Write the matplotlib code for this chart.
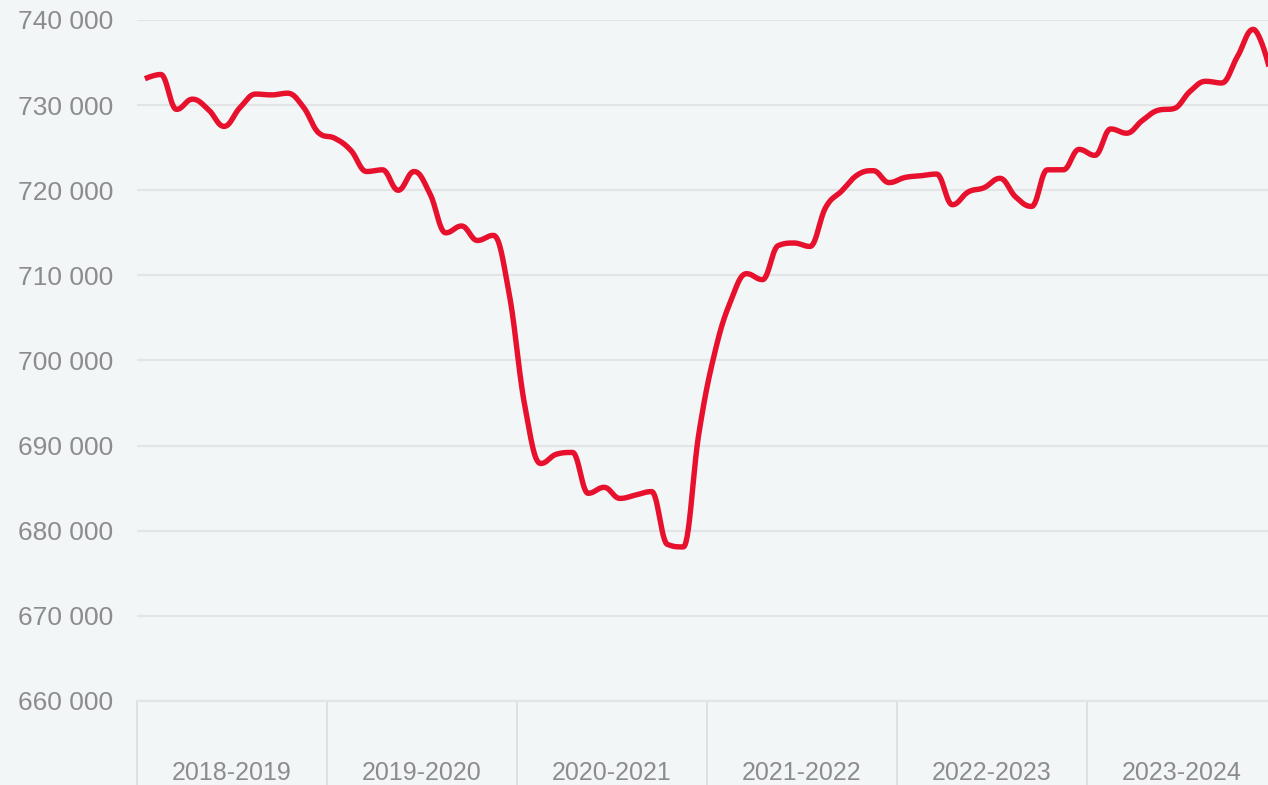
import matplotlib
matplotlib.use("Agg")
import matplotlib.pyplot as plt
import numpy as np
from matplotlib.ticker import FuncFormatter, FixedLocator

plt.rcParams["font.family"] = ["Liberation Sans", "DejaVu Sans"]

# %% data: monthly values (thousands), one list per season
seasons = ["2018-2019", "2019-2020", "2020-2021", "2021-2022", "2022-2023", "2023-2024"]
s2018 = [733.1, 733.6, 729.5, 730.7, 729.5, 727.5, 729.7, 731.3, 731.2, 731.4, 729.8, 726.7]
s2019 = [726.1, 724.7, 722.2, 722.4, 720.0, 722.2, 719.6, 715.0, 715.8, 714.1, 714.7, 707.9]
s2020 = [694.6, 687.9, 689.0, 689.2, 684.4, 685.1, 683.8, 684.2, 684.6, 678.4, 678.1, 691.6]
s2021 = [701.0, 707.0, 710.2, 709.5, 713.5, 713.8, 713.4, 718.0, 719.9, 721.8, 722.3, 720.9]
s2022 = [721.5, 721.7, 721.9, 718.3, 719.8, 720.3, 721.4, 719.2, 718.1, 722.4, 722.4, 724.8]
s2023 = [724.1, 727.2, 726.7, 728.2, 729.4, 729.6, 731.6, 732.8, 732.6, 735.7, 738.9, 734.5]

values = np.array(s2018 + s2019 + s2020 + s2021 + s2022 + s2023) * 1000
months = np.arange(len(values)) + 0.5
y_ticks = list(range(660000, 740001, 10000))


def spline_path(x, y, n=30, smoothing=1.5):
    # bezier spline with control points clamped so no false extremes appear
    k = len(x)
    denom = smoothing + 1
    lcx, lcy = x.astype(float).copy(), y.astype(float).copy()
    rcx, rcy = x.astype(float).copy(), y.astype(float).copy()
    for i in range(1, k - 1):
        lx = (smoothing * x[i] + x[i - 1]) / denom
        ly = (smoothing * y[i] + y[i - 1]) / denom
        rx = (smoothing * x[i] + x[i + 1]) / denom
        ry = (smoothing * y[i] + y[i + 1]) / denom
        corr = (ry - ly) * (rx - x[i]) / (rx - lx) + y[i] - ry
        ly += corr
        ry += corr
        if ly > y[i - 1] and ly > y[i]:
            ly = max(y[i - 1], y[i])
            ry = 2 * y[i] - ly
        elif ly < y[i - 1] and ly < y[i]:
            ly = min(y[i - 1], y[i])
            ry = 2 * y[i] - ly
        if ry > y[i + 1] and ry > y[i]:
            ry = max(y[i + 1], y[i])
            ly = 2 * y[i] - ry
        elif ry < y[i + 1] and ry < y[i]:
            ry = min(y[i + 1], y[i])
            ly = 2 * y[i] - ry
        lcx[i], lcy[i], rcx[i], rcy[i] = lx, ly, rx, ry
    t = np.linspace(0, 1, n, endpoint=False)[:, None]
    xx, yy = [], []
    for i in range(k - 1):
        p0 = np.array([x[i], y[i]])
        p1 = np.array([rcx[i], rcy[i]])
        p2 = np.array([lcx[i + 1], lcy[i + 1]])
        p3 = np.array([x[i + 1], y[i + 1]])
        pts = (1 - t) ** 3 * p0 + 3 * (1 - t) ** 2 * t * p1 + 3 * (1 - t) * t**2 * p2 + t**3 * p3
        xx.append(pts[:, 0])
        yy.append(pts[:, 1])
    xx.append([x[-1]])
    yy.append([y[-1]])
    return np.concatenate(xx), np.concatenate(yy)


bg = "#f2f6f7"
grid_c = "#e2e4e5"
text_c = "#8c8c8c"

fig = plt.figure(figsize=(12.68, 7.85), dpi=100, facecolor=bg)
ax = fig.add_axes([137 / 1268, 1 - 701 / 785, 1140 / 1268, 681 / 785], facecolor=bg)

sx, sy = spline_path(months, values)
ax.plot(sx, sy, color="#e8112d", lw=3.9, solid_capstyle="butt", zorder=3)

ax.set_xlim(0, len(values))
ax.set_ylim(660000, 740000)

ax.set_yticks(y_ticks)
ax.yaxis.set_major_formatter(FuncFormatter(lambda v, p: f"{int(v):,}".replace(",", " ")))
ax.tick_params(axis="y", length=0, pad=17, labelsize=19, labelcolor=text_c)
ax.yaxis.grid(True, color=grid_c, lw=1.6)
ax.set_axisbelow(True)

ax.xaxis.set_major_locator(FixedLocator(np.arange(0, len(values) + 1, 12)))
ax.xaxis.set_minor_locator(FixedLocator(np.arange(6, len(values), 12)))
ax.xaxis.set_major_formatter(FuncFormatter(lambda v, p: ""))
ax.set_xticklabels(seasons, minor=True)
ax.tick_params(axis="x", which="major", length=61, width=1.3, color="#dcdedf", direction="out")
ax.tick_params(axis="x", which="minor", length=0, pad=43, labelsize=18, labelcolor=text_c)

for s in ["top", "right", "left"]:
    ax.spines[s].set_visible(False)
ax.spines["bottom"].set_color(grid_c)
ax.spines["bottom"].set_linewidth(1.6)

fig.savefig("out.png", dpi=100, facecolor=bg)
